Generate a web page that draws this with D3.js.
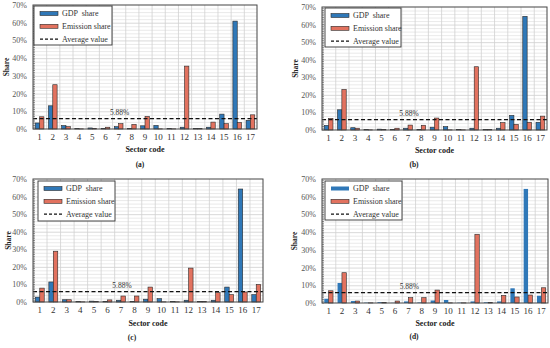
<!DOCTYPE html>
<html><head><meta charset="utf-8">
<script src="https://cdn.jsdelivr.net/npm/d3@7"></script>
<style>body{margin:0;background:#fff}svg{display:block}</style>
</head><body><svg id="c" width="550" height="348"></svg>
<script>
const sectors = [1,2,3,4,5,6,7,8,9,10,11,12,13,14,15,16,17];
const yTickValues = [0,10,20,30,40,50,60,70];
const averageValue = 5.88;
const seriesNames = ["GDP  share","Emission share","Average value"];
const panelLabels = ["(a)","(b)","(c)","(d)"];
const gdpA = [3.4,13.1,1.9,0.2,0.6,0.4,1.3,0.4,1.8,2.0,0.3,1.0,0.3,1.0,8.4,60.9,4.9];
const emA  = [6.9,25.0,1.3,0.1,0.4,1.0,3.0,2.6,7.1,0.1,0.1,35.5,0.2,3.9,3.0,3.7,8.0];
const gdpB = [2.6,11.5,1.3,0.2,0.5,0.4,1.0,0.4,1.6,1.9,0.3,1.0,0.3,1.0,8.3,64.7,4.4];
const emB  = [6.6,23.1,1.0,0.1,0.3,1.0,2.8,2.7,6.8,0.1,0.1,36.0,0.2,4.2,3.2,4.4,7.9];
const gdpC = [2.8,11.4,1.3,0.2,0.5,0.4,1.0,0.4,1.6,1.9,0.3,1.0,0.3,1.0,8.5,64.3,4.2];
const emC  = [7.9,28.9,1.3,0.1,0.3,1.2,3.4,3.4,8.5,0.1,0.1,19.3,0.3,5.3,4.2,5.7,10.0];
const gdpD = [2.4,11.3,1.1,0.2,0.5,0.1,0.9,0.3,1.4,1.7,0.2,0.9,0.4,0.9,8.3,64.4,4.1];
const emD  = [6.9,17.1,1.1,0.1,0.3,1.1,3.0,3.0,7.3,0.1,0.1,38.8,0.3,4.3,3.4,4.5,8.6];

const panels = [
  {gdp:gdpA, em:emA, label:panelLabels[0], l:33, r:257, t:5, b:129, shareX:5, xtY:140, scY:152, capX:140, capY:167, lg:[34,6,78,39], gdpStroke:true},
  {gdp:gdpB, em:emB, label:panelLabels[1], l:322, r:547, t:7, b:130, shareX:294, xtY:141, scY:153, capX:414, capY:167, lg:[325,8,76,39], gdpStroke:true},
  {gdp:gdpC, em:emC, label:panelLabels[2], l:33, r:263, t:179, b:302, shareX:7, xtY:313, scY:326, capX:132, capY:340, lg:[38,181,77,40], gdpStroke:true},
  {gdp:gdpD, em:emD, label:panelLabels[3], l:322, r:548, t:179, b:303, shareX:293, xtY:314, scY:326, capX:414, capY:339, lg:[325,181,77,39], gdpStroke:false}
];
const blue = "#2F78B8", red = "#E2725F", edge = "#2a2a2a";
const FONT = "Liberation Serif";
const svg = d3.select("#c");

panels.forEach(p => {
  const g = svg.append("g").attr("font-family", FONT);
  const x = d3.scaleBand().domain(sectors).range([p.l, p.r]).paddingInner(0.34).paddingOuter(0.17);
  const xc = d3.scaleBand().domain(sectors).range([p.l, p.r]);
  const y = d3.scaleLinear().domain([0,70]).range([p.b, p.t]);
  const xs = d3.scaleBand().domain([0,1]).range([0, x.bandwidth()]);

  g.append("g").selectAll("line").data(d3.range(2,70,2)).join("line")
    .attr("x1",p.l).attr("x2",p.r).attr("y1",d=>y(d)+0.5).attr("y2",d=>y(d)+0.5)
    .attr("stroke", d=> d%10===0 ? "#cfcfcf" : "#e4e4e4").attr("stroke-width",0.8);
  g.append("g").selectAll("line").data(sectors.slice(1)).join("line")
    .attr("x1",d=>xc(d)+0.5).attr("x2",d=>xc(d)+0.5).attr("y1",p.t).attr("y2",p.b)
    .attr("stroke","#d0d0d0").attr("stroke-width",0.8);

  g.append("g").selectAll("rect").data(sectors).join("rect")
    .attr("x",(d)=>x(d)+xs(0)).attr("width",xs.bandwidth())
    .attr("y",(d,i)=>y(p.gdp[i])).attr("height",(d,i)=>y(0)-y(p.gdp[i]))
    .attr("fill",blue).attr("stroke",p.gdpStroke?edge:"none").attr("stroke-width",0.6);
  g.append("g").selectAll("rect").data(sectors).join("rect")
    .attr("x",(d)=>x(d)+xs(1)).attr("width",xs.bandwidth())
    .attr("y",(d,i)=>y(p.em[i])).attr("height",(d,i)=>y(0)-y(p.em[i]))
    .attr("fill",red).attr("stroke",edge).attr("stroke-width",0.6);

  g.append("line").attr("x1",p.l).attr("x2",p.r).attr("y1",y(averageValue)).attr("y2",y(averageValue))
    .attr("stroke","#111").attr("stroke-width",1.1).attr("stroke-dasharray","4,2.5");
  g.append("text").attr("x",xc(7)+xc.bandwidth()/2+1).attr("y",y(averageValue)-4)
    .attr("text-anchor","middle").attr("font-size",7.5).attr("fill","#333").text(averageValue.toFixed(2)+"%");

  g.append("rect").attr("x",p.l).attr("y",p.t).attr("width",p.r-p.l).attr("height",p.b-p.t)
    .attr("fill","none").attr("stroke","#444").attr("stroke-width",1);

  const ya = d3.axisLeft(y).tickValues(yTickValues).tickFormat(d=>d+"%").tickSize(0).tickPadding(6);
  const yg = g.append("g").attr("transform",`translate(${p.l},0)`).call(ya).attr("font-family",FONT);
  yg.select(".domain").remove();
  yg.selectAll("text").attr("font-size",8).attr("fill","#555");
  g.append("g").selectAll("line").data(d3.range(0,70,1)).join("line")
    .attr("x1",p.l).attr("x2",p.l+2).attr("y1",d=>y(d)).attr("y2",d=>y(d)).attr("stroke","#444").attr("stroke-width",0.6);

  const xa = d3.axisBottom(xc).tickSize(0).tickPadding(0);
  const xg = g.append("g").attr("transform",`translate(0,${p.xtY-6.5})`).call(xa).attr("font-family",FONT);
  xg.select(".domain").remove();
  xg.selectAll("text").attr("font-size",9).attr("fill","#333").attr("dy","0.71em");

  g.append("text").attr("transform",`translate(${p.shareX+4},${(p.t+p.b)/2}) rotate(-90)`)
    .attr("text-anchor","middle").attr("font-size",7.5).attr("font-weight","bold").attr("fill","#222").text("Share");
  g.append("text").attr("x",(p.l+p.r)/2).attr("y",p.scY).attr("text-anchor","middle")
    .attr("font-size",8).attr("font-weight","bold").attr("fill","#222").text("Sector code");
  g.append("text").attr("x",p.capX).attr("y",p.capY).attr("text-anchor","middle")
    .attr("font-size",7.5).attr("font-weight","bold").attr("fill","#222").text(p.label);

  const [lx,ly,lw,lh] = p.lg;
  const lgG = g.append("g");
  lgG.append("rect").attr("x",lx).attr("y",ly).attr("width",lw).attr("height",lh)
    .attr("fill","#fff").attr("stroke","#333").attr("stroke-width",0.9);
  const rowY = i => ly + 7.5 + i*12.8;
  [0,1].forEach(i=>{
    lgG.append("rect").attr("x",lx+6).attr("y",rowY(i)-2).attr("width",18).attr("height",4)
      .attr("fill", i===0?blue:red).attr("stroke", (i===0 && !p.gdpStroke)?"none":edge).attr("stroke-width",0.6);
  });
  lgG.append("line").attr("x1",lx+6).attr("x2",lx+24).attr("y1",rowY(2)).attr("y2",rowY(2))
    .attr("stroke","#111").attr("stroke-width",1.1).attr("stroke-dasharray","3,2");
  seriesNames.forEach((s,i)=>{
    lgG.append("text").attr("x",lx+28).attr("y",rowY(i)+2.8).attr("font-size",8).attr("fill","#333")
      .style("white-space","pre").text(s);
  });
});
</script></body></html>
